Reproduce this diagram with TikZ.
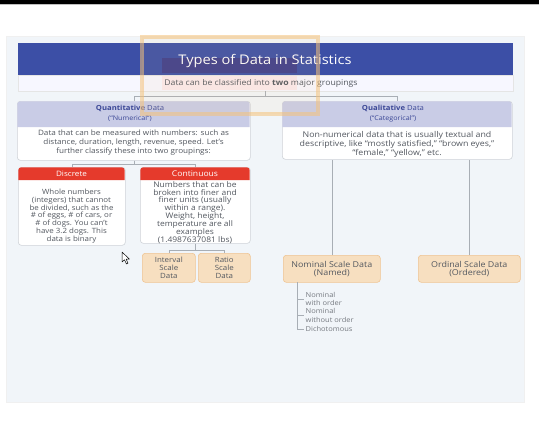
\documentclass[tikz,border=0pt]{standalone}
\usepackage{fontspec}
\setmainfont{Open Sans}[FakeStretch=1.1]
\definecolor{panel}{HTML}{F1F5F9}
\definecolor{barblue}{HTML}{3C4FA6}
\definecolor{lav}{HTML}{C9CCE6}
\definecolor{hdrtxt}{HTML}{3B4796}
\definecolor{redh}{HTML}{E53A2C}
\definecolor{peach}{HTML}{F7DFC0}
\definecolor{peachb}{HTML}{EFC493}
\definecolor{boxb}{HTML}{CFD3D8}
\definecolor{txt}{HTML}{535860}
\definecolor{ovl}{HTML}{F5C27A}
\definecolor{conncol}{HTML}{A8AEB5}
\definecolor{hilite}{HTML}{3F3A86}
\tikzset{
  conn/.style={draw=conncol, line width=0.6pt},
  boxn/.style={draw=boxb, fill=white, rounded corners=3pt, line width=0.6pt, anchor=north west, inner sep=0pt},
  peachbox/.style={draw=peachb, fill=peach, rounded corners=3pt, line width=0.6pt, anchor=north west, inner sep=0pt, align=center, text=txt, font=\fontsize{7.2}{8.3}\selectfont},
  hdrtext/.style={align=center, text=hdrtxt, font=\fontsize{7}{9.5}\selectfont},
  bodytext/.style={align=center, text=txt},
  redtext/.style={text=white, font=\fontsize{7.4}{8}\selectfont},
  listtext/.style={anchor=west, align=left, text=txt!80, font=\fontsize{6.8}{8.2}\selectfont, inner sep=1.5pt},
}
\begin{document}
\begin{tikzpicture}[x=1pt,y=-1pt]
\useasboundingbox (0,0) rectangle (539,426);
\fill[white] (0,0) rectangle (539,426);
\fill[black] (0,0) rectangle (539,4);
\fill[gray!50] (0,4) rectangle (539,5.2);
% panel
\fill[panel] (6,36) rectangle (524,402);
\draw[gray!12, line width=1pt] (6,36) rectangle (524,402);
% title bar
\fill[barblue] (18,43) rectangle (513,75);
\fill[hilite, opacity=0.8] (162,58) rectangle (297,73);
\node[text=white, font=\fontsize{13.3}{15}\selectfont] (title) at (265,61) {Types of Data in Statistics};
% subtitle strip
\node[draw=gray!20, fill=white!97!blue, anchor=north west, minimum width=495pt, minimum height=16pt, inner sep=0pt] (sub) at (18,75) {};
\fill[pink!45, opacity=0.6] (162,76) rectangle (297,90);
\node[text=txt, font=\fontsize{7.9}{9}\selectfont] (subt) at (261,83.5) {Data can be classified into \textbf{two} major groupings};
% quantitative
\node[boxn, minimum width=233pt, minimum height=59pt] (quant) at (17,101) {};
\fill[lav] (17.3,127) [rounded corners=3pt] -- (17.3,101.3) -- (249.7,101.3) [sharp corners] -- (249.7,127) -- cycle;
\node[hdrtext] (quanth) at (130,113.5) {\textbf{Quantitative} Data\\{\fontsize{6.5}{7}\selectfont(``Numerical'')}};
\node[bodytext, font=\fontsize{7.4}{8.7}\selectfont] (quantb) at (133.5,142.5) {Data that can be measured with numbers: such as\\distance, duration, length, revenue, speed. Let's\\further classify these into two groupings:};
% qualitative
\node[boxn, minimum width=230pt, minimum height=58pt] (qual) at (282,101) {};
\fill[lav] (282.3,127) [rounded corners=3pt] -- (282.3,101.3) -- (511.7,101.3) [sharp corners] -- (511.7,127) -- cycle;
\node[hdrtext] (qualh) at (393,113.5) {\textbf{Qualitative} Data\\{\fontsize{6.5}{7}\selectfont(``Categorical'')}};
\node[bodytext, font=\fontsize{8}{8}\selectfont] (qualb) at (397,144) {Non-numerical data that is usually textual and\\descriptive, like ``mostly satisfied,'' ``brown eyes,''\\``female,'' ``yellow,'' etc.};
% top connectors
\draw[conn] (sub.south) -- ++(0,5) -| (quant.north);
\draw[conn] (sub.south) -- ++(0,5) -| (qual.north);
% discrete
\node[boxn, minimum width=107pt, minimum height=78pt] (disc) at (18,167) {};
\fill[redh] (18.3,180) [rounded corners=3pt] -- (18.3,167.3) -- (124.7,167.3) [sharp corners] -- (124.7,180) -- cycle;
\node[redtext] (disch) at (71.5,173.6) {Discrete};
\node[bodytext, font=\fontsize{7.2}{7.8}\selectfont] (discb) at (71.5,216) {Whole numbers\\(integers) that cannot\\be divided, such as the\\\# of eggs, \# of cars, or\\\# of dogs. You can't\\have 3.2 dogs. This\\data is binary};
% continuous
\node[boxn, minimum width=110pt, minimum height=76pt] (cont) at (140,167) {};
\fill[redh] (140.3,180) [rounded corners=3pt] -- (140.3,167.3) -- (249.7,167.3) [sharp corners] -- (249.7,180) -- cycle;
\node[redtext, font=\fontsize{7.8}{8}\selectfont] (conth) at (195,173.6) {Continuous};
\node[bodytext, font=\fontsize{7.7}{7.9}\selectfont] (contb) at (195,212.5) {Numbers that can be\\broken into finer and\\finer units (usually\\within a range).\\Weight, height,\\temperature are all\\examples\\(1.4987637081 lbs)};
\draw[conn] (quant.south) -- ++(0,4) -| (disc.north);
\draw[conn] (quant.south) -- ++(0,4) -| (cont.north);
% interval / ratio
\node[peachbox, minimum width=53pt, minimum height=29pt] (intv) at (142,253) {Interval\\Scale\\Data};
\node[peachbox, minimum width=52pt, minimum height=29pt] (ratio) at (198,253) {Ratio\\Scale\\Data};
\draw[conn] (cont.south) -- ++(0,7) -| (intv.north);
\draw[conn] (cont.south) -- ++(0,7) -| (ratio.north);
% nominal / ordinal
\node[peachbox, minimum width=97pt, minimum height=27pt, font=\fontsize{8.1}{8.2}\selectfont] (nom) at (283,255) {Nominal Scale Data\\(Named)};
\node[peachbox, minimum width=102pt, minimum height=27pt, font=\fontsize{8.1}{8.2}\selectfont] (ord) at (418,255) {Ordinal Scale Data\\(Ordered)};
\draw[conn] (nom.north) -- (nom.north |- qual.south);
\draw[conn] (ord.north) -- (ord.north |- qual.south);
% nominal list
\coordinate (nl) at (297,282);
\node[listtext] (n1) at (304,299) {Nominal\\with order};
\node[listtext] (n2) at (304,315.5) {Nominal\\without order};
\node[listtext] (n3) at (304,329) {Dichotomous};
\draw[conn] (nl) |- (n1.west);
\draw[conn] (nl) |- (n2.west);
\draw[conn] (nl) |- (n3.west);
% cursor
\draw[black, fill=white, line width=0.5pt, line join=round] (122,252) -- (122,262) -- (124.5,259.8) -- (126.5,264) -- (128,263.3) -- (126.2,259.2) -- (129.5,259.2) -- cycle;
% orange overlay frame
\draw[ovl, line width=4pt, opacity=0.55, fill=ovl, fill opacity=0.08] (142,37) rectangle (318,114);
\end{tikzpicture}
\end{document}
